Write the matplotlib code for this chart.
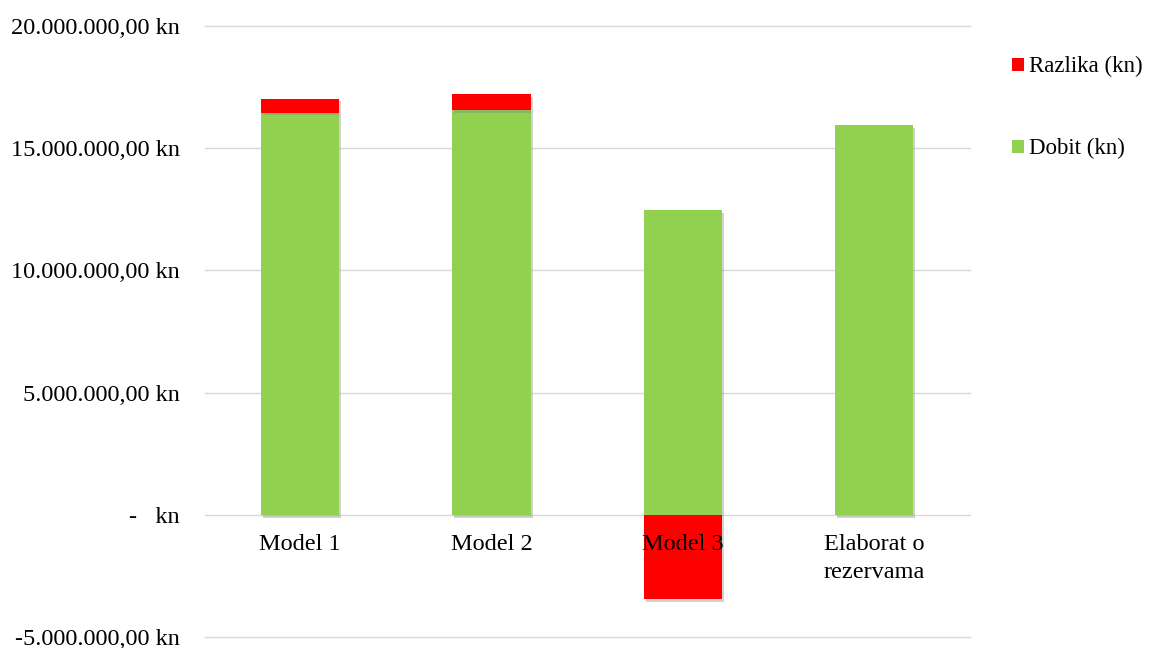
import matplotlib.pyplot as plt
import matplotlib.patheffects as pe
from matplotlib.ticker import FuncFormatter

# -----------------------------
# Data
# -----------------------------
categories = ["Model 1", "Model 2", "Model 3", "Elaborat o\nrezervama"]
dobit = [16450000, 16570000, 12480000, 15950000]
razlika = [580000, 630000, -3450000, 0]

green = "#92D050"
red = "#FF0000"

plt.rcParams["font.family"] = ["Liberation Serif", "DejaVu Serif"]


def kn_format(v, pos):
    if abs(v) < 1:
        return "-   kn"
    s = f"{abs(v):,.2f}".replace(",", "X").replace(".", ",").replace("X", ".")
    return ("-" if v < 0 else "") + s + " kn"


fig = plt.figure(figsize=(11.49, 6.48), dpi=100)
ax = fig.add_axes([0.178, 0.017, 0.666, 0.943])

x = range(len(categories))
shadow = [pe.SimplePatchShadow(offset=(1.5, -2), shadow_rgbFace="#808080", alpha=0.35), pe.Normal()]

# green from 0, red on top of green if positive, below zero if negative
bottoms = [d if r > 0 else 0 for d, r in zip(dobit, razlika)]
b1 = ax.bar(x, dobit, width=0.41, color=green, zorder=2)
b2 = ax.bar(x, razlika, width=0.41, bottom=bottoms, color=red, zorder=2)
for p in list(b1) + list(b2):
    p.set_path_effects(shadow)

ax.set_xlim(-0.5, 3.5)
ax.set_ylim(-5000000, 20000000)
ax.set_yticks([-5000000, 0, 5000000, 10000000, 15000000, 20000000])
ax.yaxis.set_major_formatter(FuncFormatter(kn_format))
ax.grid(axis="y", color="#D9D9D9", linewidth=1)
ax.set_axisbelow(True)
for gl in ax.get_ygridlines():
    gl.set_clip_on(False)

ax.set_xticks(list(x))
ax.spines["bottom"].set_position(("data", 0))
for s in ax.spines.values():
    s.set_visible(False)
ax.tick_params(axis="y", length=0, pad=18, labelsize=17.5)
ax.tick_params(axis="x", length=0, pad=14, labelsize=17.5)
ax.set_xticklabels(categories, linespacing=1.4)
# labels drawn above bars (Model 3 sits on the red bar)
ax.xaxis.set_zorder(5)

leg = fig.legend([b2, b1], ["Razlika (kn)", "Dobit (kn)"], loc="upper left",
                 bbox_to_anchor=(0.863, 0.945), frameon=False, fontsize=16.5,
                 handlelength=0.5, handleheight=0.5, handletextpad=0.25,
                 labelspacing=2.65)
for h in leg.legend_handles:
    h.set_path_effects([])

fig.savefig("out.png", dpi=100)
plt.close()
